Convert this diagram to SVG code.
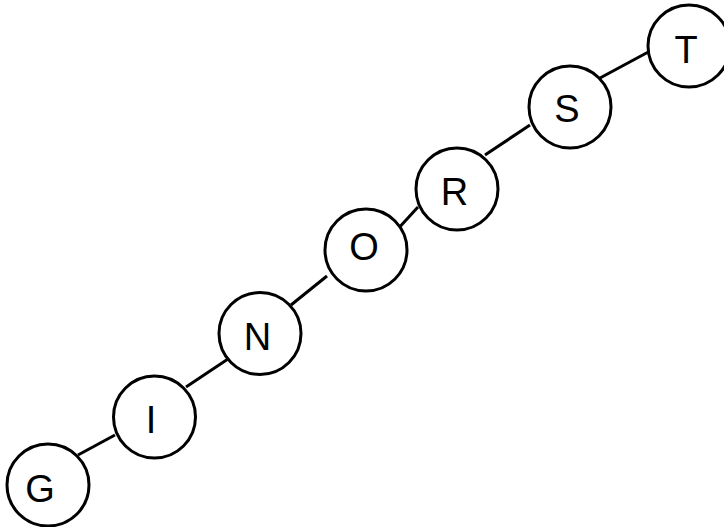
<svg xmlns="http://www.w3.org/2000/svg" width="724" height="527" viewBox="0 0 724 527">
<style>
.n circle{fill:#fff;stroke:#000;stroke-width:3}
.n text{font-family:"Liberation Sans",Arial,sans-serif;font-size:38px;text-anchor:middle;fill:#000}
.e line{stroke:#000;stroke-width:3}
</style>
<rect width="724" height="527" fill="#fff"/>
<g id="connectors" class="e">
<line x1="78" y1="455" x2="115" y2="435"/>
<line x1="186" y1="387" x2="228" y2="359"/>
<line x1="291" y1="305" x2="327" y2="276"/>
<line x1="396" y1="231" x2="418" y2="207"/>
<line x1="485" y1="155" x2="530" y2="125"/>
<line x1="600" y1="78" x2="652" y2="50"/>
</g>
<g id="node-G" class="n"><circle cx="48" cy="485" r="41"/><text x="40" y="502">G</text></g>
<g id="node-I" class="n"><circle cx="154.5" cy="417" r="41"/><text x="151" y="433">I</text></g>
<g id="node-N" class="n"><circle cx="260" cy="333.5" r="41"/><text x="257.5" y="350">N</text></g>
<g id="node-O" class="n"><circle cx="366" cy="250" r="41"/><text x="364" y="260">O</text></g>
<g id="node-R" class="n"><circle cx="457" cy="189" r="41"/><text x="454.5" y="205">R</text></g>
<g id="node-S" class="n"><circle cx="570" cy="107" r="41"/><text x="567" y="122">S</text></g>
<g id="node-T" class="n"><circle cx="689" cy="46" r="41"/><text x="686" y="63">T</text></g>
</svg>
